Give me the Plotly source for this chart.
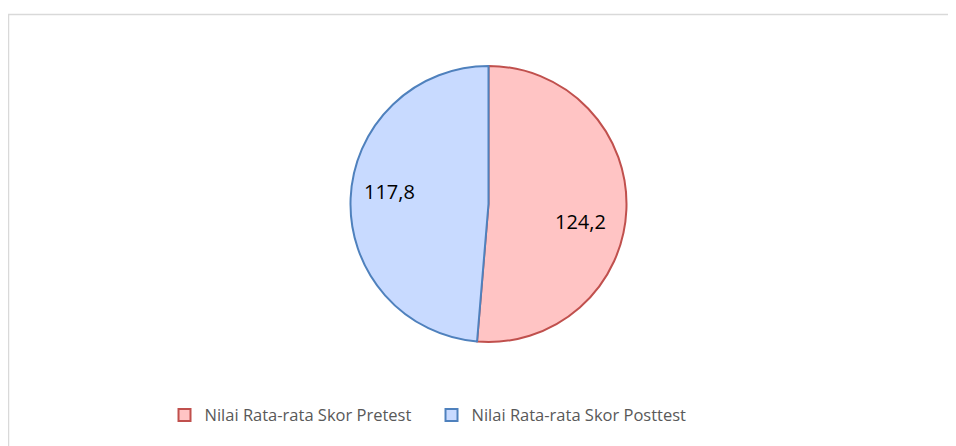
import plotly.graph_objects as go

# data
labels = ["Nilai Rata-rata Skor Pretest", "Nilai Rata-rata Skor Posttest"]
values = [124.2, 117.8]
value_text = ["124,2", "117,8"]
fill_colors = ["#FFC4C4", "#C8DAFF"]
line_colors = ["#C0504D", "#4F81BD"]

W, H = 956, 446
# page body adds an 8px offset, positions below are in figure pixels
cx, cy, R = 480.5, 196, 138

fig = go.Figure()
fig.add_trace(go.Pie(
    labels=labels,
    values=values,
    sort=False,
    direction="clockwise",
    rotation=0,
    textinfo="none",
    marker=dict(colors=fill_colors, line=dict(color=line_colors, width=2)),
    domain=dict(x=[(cx - R) / W, (cx + R) / W], y=[(H - cy - R) / H, (H - cy + R) / H]),
    hoverinfo="label+value",
))

# data labels, placed like the original (offset from centre as fraction of radius)
label_offsets = [(0.67, 0.13), (-0.72, -0.09)]
annotations = []
for txt, (fx, fy) in zip(value_text, label_offsets):
    annotations.append(dict(
        x=(cx + fx * R) / W, y=(H - cy - fy * R) / H,
        xref="paper", yref="paper", text=txt, showarrow=False,
        font=dict(family="Open Sans, Liberation Sans, sans-serif", size=20, color="black"),
    ))

fig.update_layout(
    width=W,
    height=H,
    margin=dict(l=0, r=0, t=0, b=0),
    paper_bgcolor="white",
    showlegend=True,
    legend=dict(
        orientation="h",
        x=0.443,
        xanchor="center",
        y=0.087,
        yanchor="middle",
        font=dict(family="Open Sans, Liberation Sans, sans-serif", size=16.5, color="#595959"),
        entrywidth=222,
        itemwidth=30,
    ),
    annotations=annotations,
    shapes=[dict(
        type="rect", xref="paper", yref="paper",
        x0=0.5 / W, x1=1.05, y0=-0.05, y1=(H - 6.5) / H,
        line=dict(color="#D9D9D9", width=1.5),
    )],
)

fig.write_html("out.html")
